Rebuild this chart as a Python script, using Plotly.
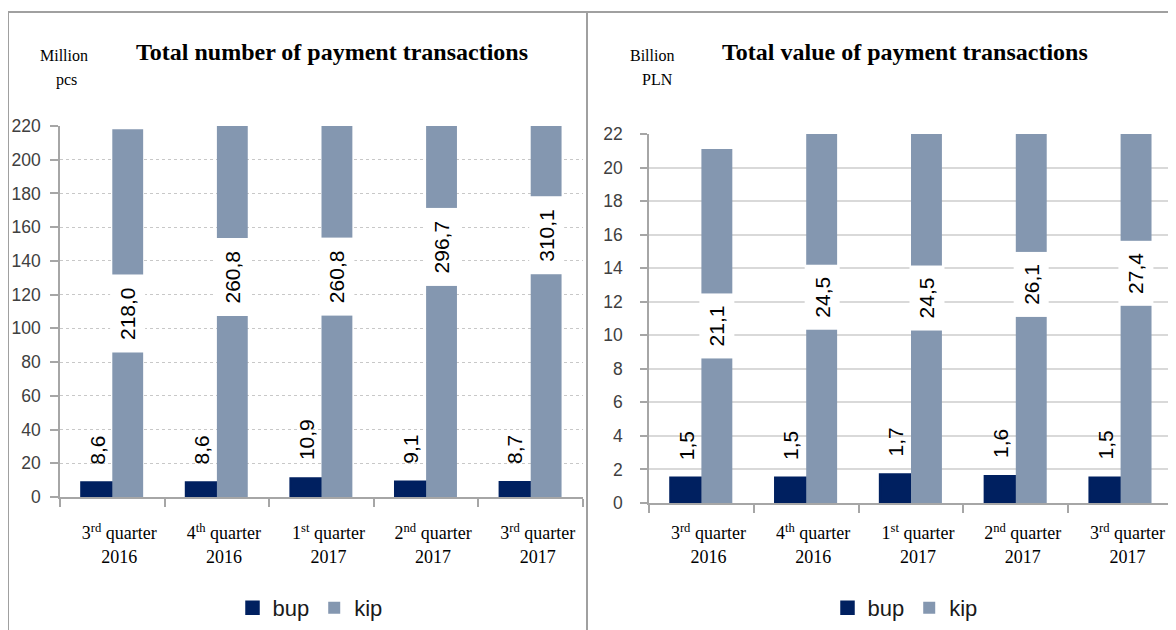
import plotly.graph_objects as go

# ---------------- data ----------------
categories = [
    "3<sup>rd</sup> quarter<br>2016",
    "4<sup>th</sup> quarter<br>2016",
    "1<sup>st</sup> quarter<br>2017",
    "2<sup>nd</sup> quarter<br>2017",
    "3<sup>rd</sup> quarter<br>2017",
]
count_bup = [8.6, 8.6, 10.9, 9.1, 8.7]          # million pcs
count_kip = [218.0, 260.8, 260.8, 296.7, 310.1]  # million pcs
value_bup = [1.5, 1.5, 1.7, 1.6, 1.5]            # billion PLN
value_kip = [21.1, 24.5, 24.5, 26.1, 27.4]       # billion PLN

series_names = ["bup", "kip"]
title_left = "Total number of payment transactions"
title_right = "Total value of payment transactions"

# ---------------- style ----------------
OFF = 8                      # page body margin
W, H = 1176 - OFF, 630 - OFF
C_BUP = "#002060"
C_KIP = "#8497B0"
SERIF = "Liberation Serif, Times New Roman, serif"
SANS = "Liberation Sans, Arial, sans-serif"
AXIS_C = "#a6a6a6"
BAR_HALF = 15.5  # px offset of bar centres from category centre


def fmt(v):
    return f"{v:.1f}".replace(".", ",")


def px_x(p):
    return (p - OFF) / W


def px_y(p):
    return 1 - (p - OFF) / H


fig = go.Figure()

panels = [
    dict(bup=count_bup, kip=count_kip, xa="x", ya="y", legend="legend"),
    dict(bup=value_bup, kip=value_kip, xa="x2", ya="y2", legend="legend2"),
]

for p in panels:
    fig.add_trace(go.Bar(
        x=categories, y=p["bup"], name=series_names[0],
        marker=dict(color=C_BUP, line=dict(color=C_BUP, width=2.5)),
        xaxis=p["xa"], yaxis=p["ya"], legend=p["legend"], hoverinfo="skip",
    ))
    fig.add_trace(go.Bar(
        x=categories, y=p["kip"], name=series_names[1],
        marker=dict(color=C_KIP, line=dict(width=0)),
        xaxis=p["xa"], yaxis=p["ya"], legend=p["legend"], hoverinfo="skip",
    ))

annotations = []
for p in panels:
    for i, cat in enumerate(categories):
        # bup label above bar
        annotations.append(dict(
            x=cat, y=p["bup"][i], xref=p["xa"], yref=p["ya"],
            text=fmt(p["bup"][i]), textangle=-90, showarrow=False,
            xanchor="center", yanchor="bottom", xshift=-BAR_HALF, yshift=16,
            font=dict(family=SANS, size=21, color="#000"),
        ))
        # kip label in middle of the (full) bar, on white box
        s = fmt(p["kip"][i])
        annotations.append(dict(
            x=cat, y=p["kip"][i] / 2, xref=p["xa"], yref=p["ya"],
            text=s, textangle=-90, showarrow=False,
            xanchor="center", yanchor="middle", xshift=BAR_HALF,
            bgcolor="#ffffff", borderpad=0, width=12.5 * len(s) + 14, height=34,
            font=dict(family=SANS, size=21, color="#000"),
        ))


def txt(x, y, text, size, family=SERIF):
    return dict(x=px_x(x), y=px_y(y), xref="paper", yref="paper", text=text,
                xanchor="center", yanchor="middle", showarrow=False,
                font=dict(family=family, size=size, color="#000"))


# titles and unit labels
annotations += [
    txt(332, 52, "<b>" + title_left + "</b>", 24),
    txt(905, 52, "<b>" + title_right + "</b>", 24),
    txt(64, 55, "Million", 16),
    txt(66, 80, "pcs", 16),
    txt(652, 55, "Billion", 16),
    txt(658, 80, "PLN", 16),
]

# panel borders
border = dict(color="#a0a0a0", width=2)
shapes = [
    dict(type="line", xref="paper", yref="paper", x0=px_x(8), x1=1, y0=px_y(12), y1=px_y(12), line=border),
    dict(type="line", xref="paper", yref="paper", x0=px_x(8), x1=px_x(8), y0=px_y(12), y1=0, line=border),
    dict(type="line", xref="paper", yref="paper", x0=px_x(587), x1=px_x(587), y0=px_y(12), y1=0, line=border),
]

xcommon = dict(
    type="category", showline=True, linecolor=AXIS_C, linewidth=1.5,
    ticks="outside", tickson="boundaries", ticklen=8, tickcolor=AXIS_C, tickwidth=1.5,
    tickfont=dict(family=SERIF, size=18, color="#000"),
    ticklabelshift=7, showgrid=False, fixedrange=True,
)
ycommon = dict(
    showline=True, linecolor=AXIS_C, linewidth=1.5, ticks="outside", tickcolor=AXIS_C,
    tickwidth=1.5, tickfont=dict(family=SANS, size=17.5, color="#404040"),
    zeroline=False, fixedrange=True,
)

fig.update_layout(
    width=W, height=H,
    margin=dict(l=0, r=0, t=0, b=0, autoexpand=False),
    paper_bgcolor="#ffffff", plot_bgcolor="#ffffff",
    barmode="group", bargap=0.41, bargroupgap=0,
    xaxis=dict(domain=[px_x(60), px_x(583)], anchor="y", ticklabelstandoff=19, **xcommon),
    yaxis=dict(domain=[px_y(497), px_y(126)], anchor="x", range=[0, 220], dtick=20,
               ticklen=8, ticklabelstandoff=6,
               gridcolor="#c8c8c8", griddash="dot", gridwidth=1, **ycommon),
    xaxis2=dict(domain=[px_x(649), px_x(1173)], anchor="y2", ticklabelstandoff=13, **xcommon),
    yaxis2=dict(domain=[px_y(503), px_y(134)], anchor="x2", range=[0, 22], dtick=2,
                ticklen=7, ticklabelstandoff=14,
                gridcolor="#d9d9d9", gridwidth=1.5, **ycommon),
    legend=dict(orientation="h", x=px_x(310), xanchor="center", y=px_y(608), yanchor="middle",
                font=dict(family=SANS, size=22, color="#1a1a1a"), bgcolor="rgba(0,0,0,0)",
                itemwidth=30, tracegroupgap=0),
    legend2=dict(orientation="h", x=px_x(905), xanchor="center", y=px_y(608), yanchor="middle",
                 font=dict(family=SANS, size=22, color="#1a1a1a"), bgcolor="rgba(0,0,0,0)",
                 itemwidth=30, tracegroupgap=0),
    annotations=annotations,
    shapes=shapes,
    showlegend=True,
)

fig.write_html("out.html")
